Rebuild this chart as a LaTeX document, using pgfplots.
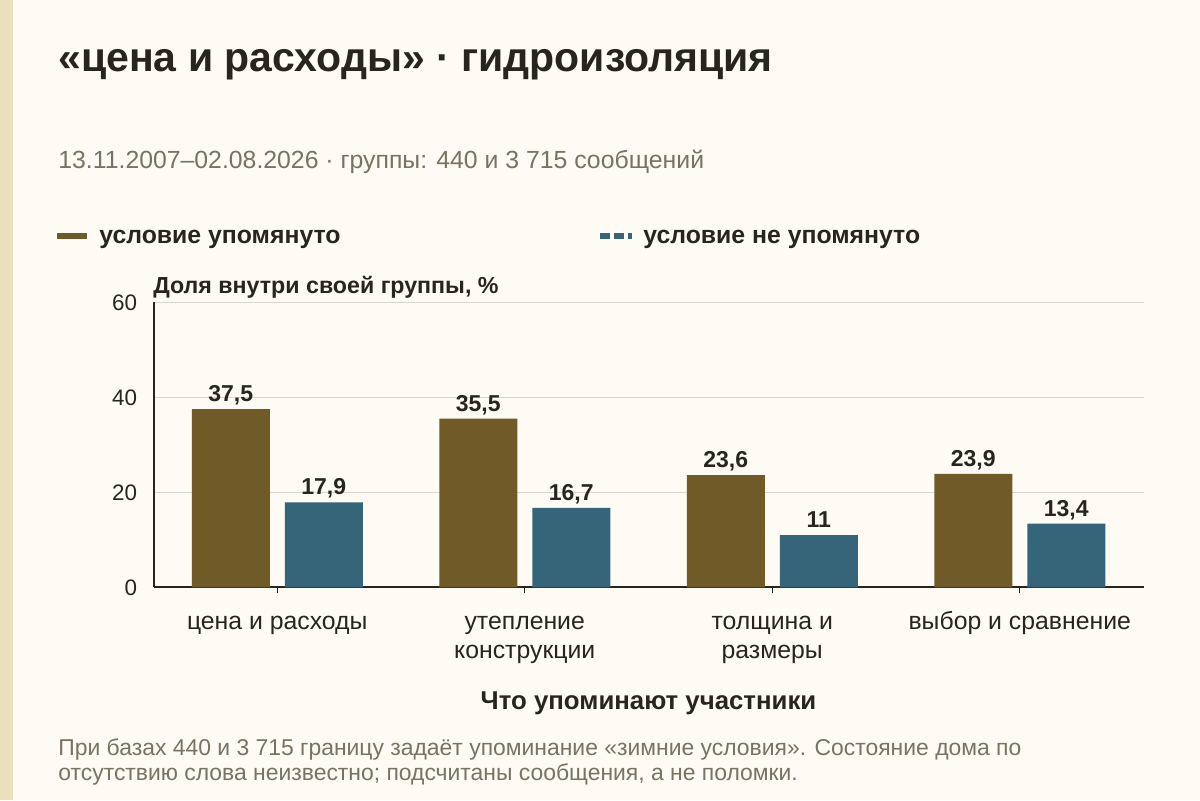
\documentclass[border=0pt]{standalone}
\usepackage{pgfplots}
\pgfplotsset{compat=1.18}
\usepackage{fontspec}
\setmainfont{Liberation Sans}

\definecolor{bg}{HTML}{FDFBF3}
\definecolor{strip}{HTML}{ECDFBE}
\definecolor{brownbar}{HTML}{705A28}
\definecolor{bluebar}{HTML}{36657A}
\definecolor{ink}{HTML}{26261F}
\definecolor{muted}{HTML}{7A7262}
\definecolor{gridc}{HTML}{D9D6CB}

% 1 unit = 0.5pt = one pixel of the 1200x800 reference, y measured from the bottom
\begin{document}
\begin{tikzpicture}[x=0.5pt,y=0.5pt]
\useasboundingbox (0,0) rectangle (1200,800);
\fill[bg] (0,0) rectangle (1200,800);
\fill[strip] (0,0) rectangle (13,800);

% title and subtitle
\node[anchor=base west, inner sep=0pt, text=ink, font=\fontsize{20.5}{24}\selectfont\bfseries]
  at (58,728) {«цена и расходы» · гидроизоляция};
\node[anchor=base west, inner sep=0pt, text=muted, font=\fontsize{12.4}{15}\selectfont]
  at (58,632) {13.11.2007–02.08.2026 · группы: 440 и 3 715 сообщений};

% legend
\draw[brownbar, line width=3pt] (57,564) -- (87,564);
\draw[bluebar, line width=3pt, dash pattern=on 5pt off 2pt] (600,564) -- (632,564);
\node[anchor=base west, inner sep=0pt, text=ink, font=\fontsize{12.4}{15}\selectfont\bfseries]
  at (99,557) {условие упомянуто};
\node[anchor=base west, inner sep=0pt, text=ink, font=\fontsize{12.4}{15}\selectfont\bfseries]
  at (643,557) {условие не упомянуто};

\begin{axis}[
    at={(76.75pt,106.35pt)}, anchor=south west,
    scale only axis,
    width=495pt, height=142.5pt,
    ybar=7.5pt, bar width=39pt,
    xmin=-0.5, xmax=3.5,
    ymin=0, ymax=60,
    xtick=data,
    xticklabels={цена и расходы, {утепление\\конструкции}, {толщина и\\размеры}, выбор и сравнение},
    ytick={0,20,40,60},
    axis x line*=bottom, axis y line*=left,
    axis line style={-, draw=ink, line width=1pt},
    tick align=outside, major tick length=3pt,
    xtick style={draw=ink, line width=0.6pt},
    ytick style={draw=none},
    ymajorgrids, grid style={gridc, line width=0.75pt},
    /pgf/number format/assume math mode=true,
    /pgf/number format/use comma,
    typeset ticklabels with strut,
    yticklabel style={text=ink, font=\fontsize{11.2}{13}\selectfont, inner sep=0pt, xshift=-5pt, yshift=-1.6pt},
    xticklabel style={text=ink, font=\fontsize{12.4}{14.5}\selectfont, align=center, inner sep=0pt, anchor=north, yshift=-7.8pt},
    nodes near coords,
    nodes near coords style={text=ink, font=\fontsize{11.5}{13}\selectfont\bfseries, anchor=base, yshift=3.8pt},
    xlabel={Что упоминают участники},
    xlabel style={at={(axis description cs:0.5,0)}, anchor=base, yshift=-60.85pt,
                  text=ink, font=\fontsize{12.9}{15}\selectfont\bfseries},
    clip=false,
]
\addplot[fill=brownbar, draw=none] coordinates {(0,37.5) (1,35.5) (2,23.6) (3,23.9)};
\addplot[fill=bluebar, draw=none] coordinates {(0,17.9) (1,16.7) (2,11) (3,13.4)};
\node[anchor=base west, inner sep=0pt, text=ink, font=\fontsize{11.6}{14}\selectfont\bfseries]
  at (rel axis cs:0,1) [yshift=4.5pt, xshift=-0.3pt] {Доля внутри своей группы, \%};
\end{axis}

% footnote
\node[anchor=base west, inner sep=0pt, text=muted, font=\fontsize{11.45}{13}\selectfont]
  at (58,45) {При базах 440 и 3 715 границу задаёт упоминание «зимние условия». Состояние дома по};
\node[anchor=base west, inner sep=0pt, text=muted, font=\fontsize{11.45}{13}\selectfont]
  at (58,20) {отсутствию слова неизвестно; подсчитаны сообщения, а не поломки.};
\end{tikzpicture}
\end{document}
